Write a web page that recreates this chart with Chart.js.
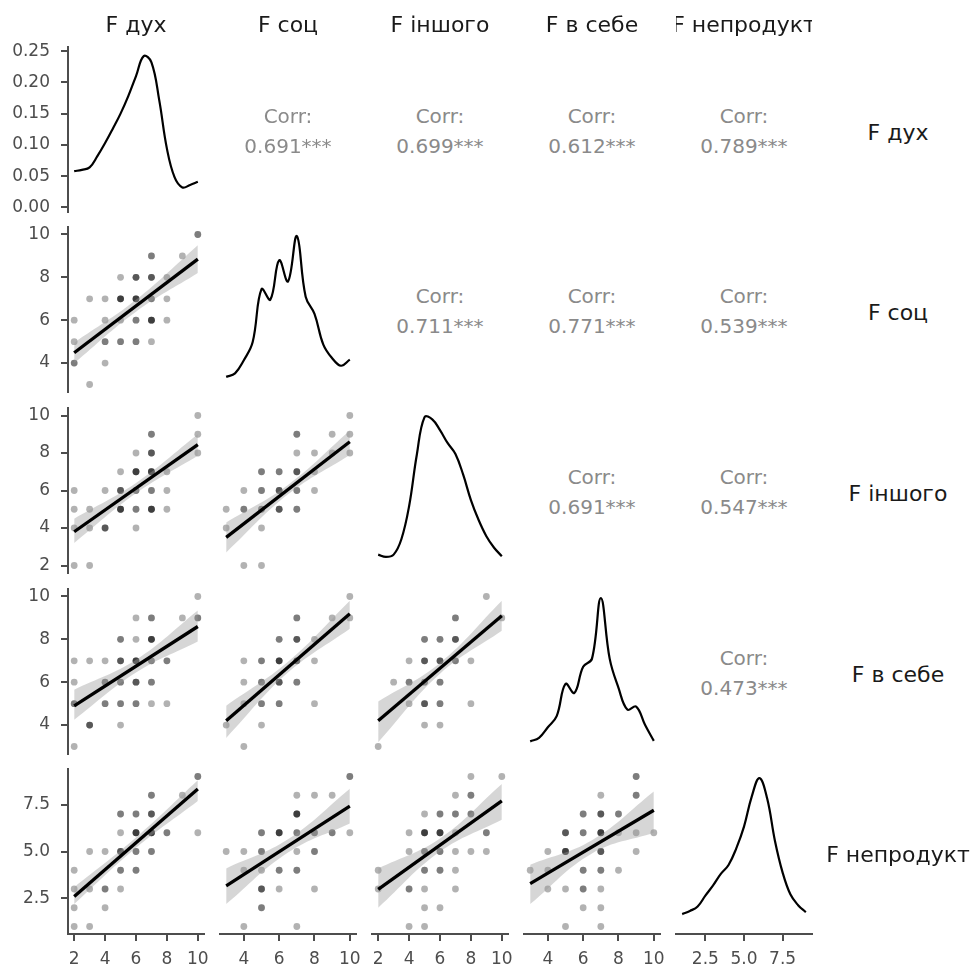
<!DOCTYPE html>
<html>
<head>
<meta charset="utf-8">
<script src="https://cdn.jsdelivr.net/npm/chart.js@4.4.0/dist/chart.umd.min.js"></script>
<style>
html, body { margin: 0; padding: 0; background: #fff; }
#page { position: relative; width: 974px; height: 972px; overflow: hidden; font-family: "DejaVu Sans", Arial, sans-serif; }
#page canvas { position: absolute; }
.strip { position: absolute; display: flex; justify-content: center; align-items: center; white-space: nowrap; overflow: hidden; color: #1a1a1a; font-size: 22px; }
.corr { position: absolute; text-align: center; color: #8a8a8a; font-size: 20px; line-height: 30px; white-space: nowrap; }
</style>
</head>
<body>
<div id="page"></div>
<script>
// variables of the pairs plot
const varNames = ['F дух', 'F соц', 'F іншого', 'F в себе', 'F непродукт'];
const varMin = [2, 3, 2, 3, 1];
const varMax = [10, 10, 10, 10, 9];
const axisTicks = [[2, 4, 6, 8, 10], [4, 6, 8, 10], [2, 4, 6, 8, 10], [4, 6, 8, 10], [2.5, 5.0, 7.5]];
const tickDigits = [0, 0, 0, 0, 1];
const densTicks = [0, 0.05, 0.10, 0.15, 0.20, 0.25];

// upper triangle: correlations, row by row
const corrValues = ['0.691', '0.699', '0.612', '0.789', '0.711', '0.771', '0.539', '0.691', '0.547', '0.473'];

// diagonal: density estimates (x step 0.5)
const densDukh = [0.058, 0.060, 0.064, 0.082, 0.103, 0.126, 0.150, 0.178, 0.210, 0.242, 0.232, 0.172, 0.094, 0.048, 0.032, 0.036, 0.041];
const densSoc = [0.021, 0.028, 0.054, 0.090, 0.195, 0.174, 0.252, 0.210, 0.300, 0.180, 0.146, 0.085, 0.058, 0.043, 0.055];
const densInsh = [0.018, 0.015, 0.018, 0.038, 0.081, 0.148, 0.197, 0.194, 0.180, 0.163, 0.149, 0.122, 0.089, 0.063, 0.042, 0.027, 0.016];
const densSebe = [0.016, 0.023, 0.044, 0.066, 0.130, 0.112, 0.164, 0.180, 0.300, 0.180, 0.122, 0.079, 0.085, 0.049, 0.017];
const densNeprod = [0.024, 0.029, 0.036, 0.053, 0.069, 0.087, 0.101, 0.127, 0.161, 0.208, 0.237, 0.205, 0.139, 0.089, 0.055, 0.038, 0.027];
const densities = [densDukh, densSoc, densInsh, densSebe, densNeprod];

// lower triangle: [x, y, how many respondents] at each grid point
const pts21 = [[10,10,2],[7,9,2],[9,9,1],[5,8,1],[6,8,3],[7,8,3],[8,8,1],[3,7,1],[4,7,1],[5,7,4],[6,7,4],[7,7,2],[8,7,1],
  [2,6,1],[4,6,1],[5,6,1],[6,6,2],[7,6,4],[8,6,1],[2,5,1],[4,5,2],[5,5,2],[6,5,2],[7,5,1],[2,4,2],[4,4,1],[3,3,1]];
const pts31 = [[10,10,1],[10,9,1],[10,8,1],[7,9,2],[6,8,1],[7,8,3],[5,7,1],[6,7,4],[7,7,4],[8,7,1],
  [2,6,1],[4,6,1],[5,6,3],[6,6,2],[7,6,2],[8,6,1],[2,5,1],[3,5,1],[5,5,4],[6,5,2],[7,5,4],[8,5,1],
  [2,4,1],[3,4,1],[4,4,3],[6,4,1],[2,2,1],[3,2,1]];
const pts41 = [[10,10,1],[6,9,1],[7,9,2],[9,9,1],[10,9,2],[5,8,2],[6,8,1],[7,8,4],
  [2,7,1],[3,7,1],[4,7,1],[5,7,3],[6,7,4],[7,7,2],[8,7,2],[2,6,1],[4,6,2],[5,6,2],[6,6,3],[7,6,2],
  [2,5,2],[4,5,2],[5,5,2],[6,5,2],[7,5,1],[8,5,1],[3,4,3],[5,4,1],[2,3,1]];
const pts51 = [[10,9,2],[7,8,2],[9,8,1],[5,7,2],[6,7,2],[7,7,3],[5,6,1],[6,6,4],[7,6,4],[8,6,2],[10,6,1],
  [3,5,1],[4,5,1],[5,5,3],[6,5,2],[7,5,2],[2,4,1],[5,4,2],[6,4,2],[2,3,1],[3,3,1],[4,3,2],[5,3,1],
  [2,2,1],[4,2,1],[2,1,1],[3,1,1]];
const pts32 = [[10,10,1],[10,9,1],[9,9,1],[7,9,2],[7,8,1],[8,8,1],[9,8,1],[10,8,1],[5,7,2],[6,7,2],[7,7,3],[8,7,1],
  [4,6,1],[5,6,2],[6,6,3],[7,6,2],[8,6,1],[3,5,1],[4,5,2],[5,5,2],[6,5,3],[7,5,2],[3,4,1],[5,4,1],[4,2,1],[5,2,1]];
const pts42 = [[10,10,1],[7,9,2],[9,9,1],[10,9,1],[6,8,2],[7,8,3],[8,8,1],[4,7,1],[5,7,2],[6,7,4],[7,7,3],[8,7,1],
  [4,6,1],[5,6,2],[6,6,3],[7,6,2],[4,5,1],[5,5,2],[6,5,2],[8,5,1],[3,4,1],[5,4,1],[4,3,1]];
const pts52 = [[10,9,2],[7,8,1],[8,8,1],[9,8,1],[7,7,4],[5,6,2],[6,6,4],[7,6,2],[8,6,2],[9,6,2],[10,6,1],
  [3,5,1],[4,5,1],[5,5,2],[7,5,1],[8,5,2],[4,4,1],[5,4,1],[6,4,2],[7,4,2],[5,3,3],[6,3,1],[8,3,1],
  [5,2,2],[4,1,1],[7,1,1]];
const pts43 = [[9,10,1],[7,9,2],[10,9,1],[5,8,2],[6,8,2],[7,8,3],[4,7,1],[5,7,3],[6,7,3],[7,7,2],[8,7,1],
  [3,6,1],[4,6,2],[5,6,2],[6,6,2],[4,5,1],[5,5,3],[6,5,2],[8,5,1],[5,4,1],[6,4,1],[2,3,1]];
const pts53 = [[8,9,1],[10,9,1],[7,8,1],[8,8,2],[5,7,1],[6,7,2],[7,7,2],[8,7,2],[4,6,1],[5,6,4],[6,6,4],[7,6,1],[9,6,2],
  [4,5,1],[5,5,2],[6,5,2],[7,5,1],[8,5,1],[9,5,1],[2,4,1],[5,4,2],[6,4,2],[7,4,1],
  [2,3,1],[4,3,2],[5,3,1],[7,3,1],[5,2,1],[6,2,1],[4,1,1],[5,1,1]];
const pts54 = [[9,9,2],[7,8,1],[9,8,2],[6,7,2],[7,7,3],[8,7,2],[5,6,3],[6,6,2],[7,6,4],[8,6,1],[9,6,1],[10,6,1],
  [4,5,1],[5,5,4],[7,5,3],[9,5,1],[3,4,1],[4,4,1],[6,4,2],[7,4,2],[8,4,1],[4,3,1],[5,3,1],[6,3,2],[7,3,1],
  [6,2,1],[7,2,1],[5,1,1],[7,1,1]];

// fitted lm line: y at lowest and highest x; band (lower / upper) at lowest, middle, highest x
const fit21 = [4.48, 8.85], lo21 = [4.0, 6.4, 8.2], hi21 = [4.95, 6.95, 9.5];
const fit31 = [3.8, 8.45], lo31 = [3.2, 5.85, 7.85], hi31 = [4.5, 6.4, 9.0];
const fit41 = [4.9, 8.6], lo41 = [4.25, 6.45, 7.9], hi41 = [5.65, 7.05, 9.35];
const fit51 = [2.6, 8.33], lo51 = [2.2, 5.2, 7.7], hi51 = [3.1, 5.75, 8.8];
const fit32 = [3.5, 8.6], lo32 = [2.7, 5.8, 7.9], hi32 = [4.3, 6.3, 9.2];
const fit42 = [4.2, 9.2], lo42 = [3.4, 6.45, 8.5], hi42 = [4.9, 6.95, 9.8];
const fit52 = [3.17, 7.42], lo52 = [2.2, 4.95, 6.5], hi52 = [4.1, 5.65, 8.35];
const fit43 = [4.2, 9.1], lo43 = [3.2, 6.4, 8.4], hi43 = [5.1, 6.9, 9.8];
const fit53 = [2.98, 7.7], lo53 = [2.0, 5.0, 6.7], hi53 = [4.1, 5.7, 8.6];
const fit54 = [3.29, 7.2], lo54 = [2.2, 4.9, 6.0], hi54 = [4.3, 5.6, 8.2];

const lowerPanels = [
  [1, 0, pts21, fit21, lo21, hi21], [2, 0, pts31, fit31, lo31, hi31], [3, 0, pts41, fit41, lo41, hi41],
  [4, 0, pts51, fit51, lo51, hi51], [2, 1, pts32, fit32, lo32, hi32], [3, 1, pts42, fit42, lo42, hi42],
  [4, 1, pts52, fit52, lo52, hi52], [3, 2, pts43, fit43, lo43, hi43], [4, 2, pts53, fit53, lo53, hi53],
  [4, 3, pts54, fit54, lo54, hi54]
];

// layout of the facet grid
const PAD = 10, AXW = 58, AXH = 40;
const COL_LEFT = [68, 220, 372, 524, 676], PW = 136;
const ROW_TOP = [47, 227, 408, 589, 769], PH = 165;
const AXIS = '#4d4d4d';
const page = document.getElementById('page');

Chart.defaults.font.family = '"DejaVu Sans", Arial, sans-serif';

function range(i) {
  const pad = (varMax[i] - varMin[i]) * 0.05;
  return [varMin[i] - pad, varMax[i] + pad];
}

function axisOpts(isX, show, r, ticksArr, digits) {
  return {
    type: 'linear',
    position: isX ? 'bottom' : 'left',
    display: show,
    min: r[0],
    max: r[1],
    grid: { drawOnChartArea: false, drawTicks: true, tickLength: 7, color: AXIS, lineWidth: 2 },
    border: { display: true, color: AXIS, width: 2 },
    ticks: { color: '#4d4d4d', font: { size: 17 }, padding: isX ? 8 : 11, maxRotation: 0, autoSkip: false,
      callback: v => Number(v).toFixed(digits) },
    afterBuildTicks: s => { s.ticks = ticksArr.map(v => ({ value: v })); },
    afterFit: s => {
      if (!show) return;
      if (isX) { s.height = AXH; s.paddingLeft = 0; s.paddingRight = 0; }
      else { s.width = AXW; s.paddingTop = 0; s.paddingBottom = 0; }
    }
  };
}

function panelChart(row, col, datasets, yRange, yTicks, yDigits) {
  const cv = document.createElement('canvas');
  const extraL = col === 0 ? AXW : 0, extraB = row === 4 ? AXH : 0;
  const w = PW + 2 * PAD + extraL, h = PH + 2 * PAD + extraB;
  cv.width = w; cv.height = h;
  cv.style.width = w + 'px'; cv.style.height = h + 'px';
  cv.style.left = (COL_LEFT[col] - PAD - extraL) + 'px';
  cv.style.top = (ROW_TOP[row] - PAD) + 'px';
  page.appendChild(cv);
  new Chart(cv, {
    type: 'scatter',
    data: { datasets },
    options: {
      responsive: false, animation: false, devicePixelRatio: 1, events: [],
      layout: { padding: PAD },
      plugins: { legend: { display: false }, tooltip: { enabled: false } },
      scales: {
        x: axisOpts(true, row === 4, range(col), axisTicks[col], tickDigits[col]),
        y: axisOpts(false, col === 0, yRange, yTicks, yDigits)
      }
    }
  });
}

// diagonal density panels
densities.forEach((dens, i) => {
  const data = dens.map((d, k) => ({ x: varMin[i] + k * 0.5, y: d }));
  const peak = Math.max(...dens);
  panelChart(i, i, [{
    type: 'line', data, borderColor: '#000', borderWidth: 2.2, pointRadius: 0,
    tension: 0.4, fill: false
  }], [-0.03 * peak, 1.06 * peak], i === 0 ? densTicks : [], 2);
});

// scatter panels with lm fit and confidence band
lowerPanels.forEach(([row, col, pts, fit, lo, hi]) => {
  const points = [];
  pts.forEach(([x, y, n]) => { for (let k = 0; k < n; k++) points.push({ x, y }); });
  const x0 = varMin[col], x1 = varMax[col], xm = (x0 + x1) / 2;
  const xs = [x0, xm, x1];
  panelChart(row, col, [
    { type: 'scatter', data: points, pointRadius: 3.4, backgroundColor: 'rgba(0,0,0,0.3)', borderWidth: 0, order: 3 },
    { type: 'line', data: xs.map((x, k) => ({ x, y: hi[k] })), borderWidth: 0, pointRadius: 0, tension: 0.4,
      fill: '+1', backgroundColor: 'rgba(153,153,153,0.4)', order: 2 },
    { type: 'line', data: xs.map((x, k) => ({ x, y: lo[k] })), borderWidth: 0, pointRadius: 0, tension: 0.4,
      fill: false, order: 2 },
    { type: 'line', data: [{ x: x0, y: fit[0] }, { x: x1, y: fit[1] }], borderColor: '#000', borderWidth: 3.3,
      pointRadius: 0, fill: false, order: 1 }
  ], range(row), axisTicks[row], tickDigits[row]);
});

// text: column strips, row strips, correlations
varNames.forEach((name, i) => {
  const top = document.createElement('div');
  top.className = 'strip';
  top.style.cssText = `left:${COL_LEFT[i]}px;top:1px;width:${PW}px;height:47px;`;
  top.textContent = name;
  page.appendChild(top);

  const side = document.createElement('div');
  side.className = 'strip';
  side.style.cssText = `left:822px;top:${ROW_TOP[i] + 3}px;width:152px;height:${PH}px;`;
  side.textContent = name;
  page.appendChild(side);
});

let ci = 0;
for (let r = 0; r < 5; r++) {
  for (let c = r + 1; c < 5; c++) {
    const d = document.createElement('div');
    d.className = 'corr';
    const cy = ROW_TOP[r] + PH / 2;
    d.style.cssText = `left:${COL_LEFT[c]}px;top:${cy - 29}px;width:${PW}px;`;
    d.innerHTML = 'Corr:<br>' + corrValues[ci++] + '***';
    page.appendChild(d);
  }
}
</script>
</body>
</html>
